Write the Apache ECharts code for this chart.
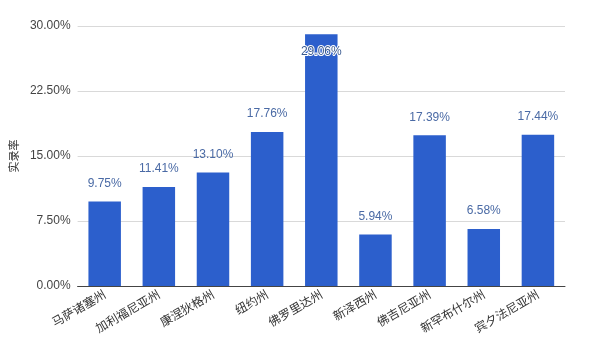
<!DOCTYPE html>
<html><head><meta charset="utf-8">
<script src="https://cdn.jsdelivr.net/npm/echarts@6/dist/echarts.min.js"></script>
<style>html,body{margin:0;padding:0;background:#fff}#c{width:600px;height:353px}</style>
</head><body><div id="c"></div>
<script>
const categories = ['马萨诸塞州','加利福尼亚州','康涅狄格州','纽约州','佛罗里达州','新泽西州','佛吉尼亚州','新罕布什尔州','宾夕法尼亚州'];
const values = [9.75, 11.41, 13.10, 17.76, 29.06, 5.94, 17.39, 6.58, 17.44];
const yTicks = [0, 7.5, 15, 22.5, 30];
const yName = '实录率';

const chart = echarts.init(document.getElementById('c'));
const data = values.map(v => v >= 28 ? {
  value: v,
  label: {position: 'insideTop', distance: 12, color: '#3a5a90', textBorderColor: '#fff', textBorderWidth: 2}
} : v);
chart.setOption({
  animation: false,
  textStyle: {fontFamily: 'Liberation Sans, Noto Sans CJK SC, sans-serif'},
  grid: {left: 73, right: 35, top: 26, bottom: 67},
  xAxis: {
    type: 'category', data: categories,
    axisLine: {lineStyle: {color: '#444', width: 1}},
    axisTick: {show: false},
    axisLabel: {rotate: 30, color: '#333', fontSize: 12, margin: 7, interval: 0,
      fontFamily: 'Noto Sans CJK SC, sans-serif'}
  },
  yAxis: {
    type: 'value', min: yTicks[0], max: yTicks[yTicks.length-1], interval: 7.5,
    name: yName, nameLocation: 'middle', nameGap: 57, nameRotate: 90,
    nameTextStyle: {fontSize: 11, color: '#333', fontFamily: 'Noto Sans CJK SC, sans-serif'},
    axisLine: {show: false}, axisTick: {show: false},
    axisLabel: {color: '#444', fontSize: 12, margin: 7, formatter: v => v.toFixed(2) + '%'},
    splitLine: {lineStyle: {color: '#d9d9d9'}}
  },
  series: [{
    type: 'bar', data: data, barWidth: '60%',
    itemStyle: {color: '#2c5fcc'},
    label: {show: true, position: 'top', distance: 12, color: '#4a6aa5', fontSize: 12,
      formatter: p => p.value.toFixed(2) + '%'}
  }]
});
</script></body></html>
